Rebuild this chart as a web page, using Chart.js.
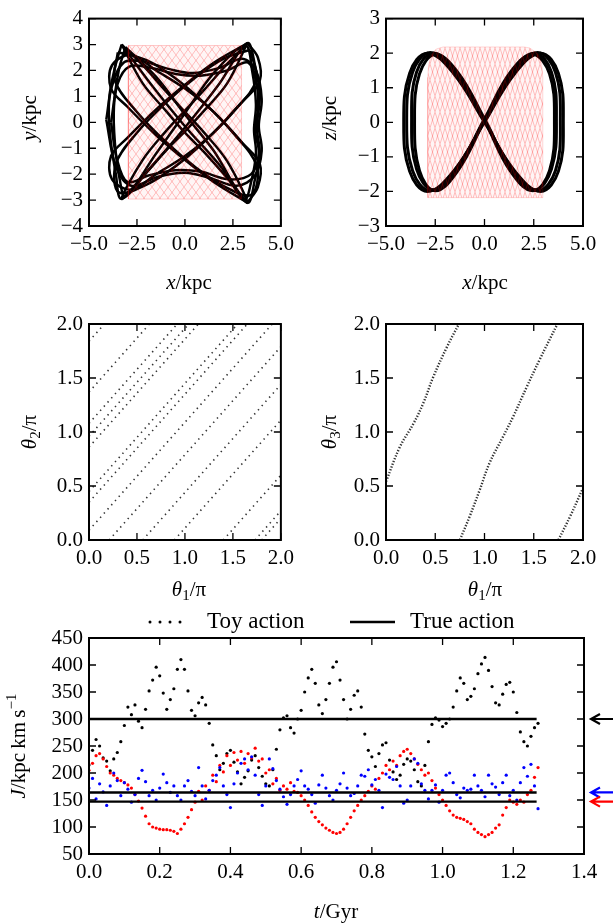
<!DOCTYPE html>
<html>
<head>
<meta charset="utf-8">
<script src="https://cdn.jsdelivr.net/npm/chart.js@4.4.1/dist/chart.umd.min.js"></script>
<style>
body { margin: 0; background: #fff; width: 613px; height: 924px; position: relative; overflow: hidden; }
canvas { position: absolute; }
</style>
</head>
<body>
<canvas id="c1" width="300" height="300" style="left:0;top:0"></canvas>
<canvas id="c2" width="313" height="300" style="left:300px;top:0"></canvas>
<canvas id="c3" width="300" height="310" style="left:0;top:300px"></canvas>
<canvas id="c4" width="313" height="310" style="left:300px;top:300px"></canvas>
<canvas id="c5" width="613" height="324" style="left:0;top:600px"></canvas>
<script>
// ---- orbit in x-y (black traces, kpc) ----
const xyLoops = [
  [[3.25,3.05],[2.2,2.25],[1.0,1.25],[0,0.45],[-1.0,-0.35],[-2.2,-1.45],[-3.3,-2.95],[-2.2,-2.1],[-1.0,-1.1],[0,-0.35],[1.0,0.45],[2.2,1.5],[3.25,3.05]],
  [[-3.3,3.0],[-2.2,2.2],[-1.0,1.2],[0,0.4],[1.0,-0.4],[2.2,-1.5],[3.25,-3.1],[2.2,-2.15],[1.0,-1.15],[0,-0.4],[-1.0,0.45],[-2.2,1.5],[-3.3,3.0]],
  [[3.4,2.8],[2.0,2.45],[0.5,1.7],[-1.0,0.75],[-2.5,-0.4],[-3.6,-1.6],[-3.45,-2.7],[-2.0,-2.4],[-0.5,-1.7],[1.0,-0.75],[2.5,0.4],[3.7,1.6],[3.4,2.8]],
  [[-3.5,2.7],[-2.0,2.4],[-0.5,1.7],[1.0,0.75],[2.5,-0.4],[3.75,-1.7],[3.45,-2.8],[2.0,-2.45],[0.5,-1.7],[-1.0,-0.75],[-2.5,0.4],[-3.65,1.6],[-3.5,2.7]],
  [[-4.1,0.1],[-3.8,1.4],[-3.2,2.3],[-2.2,2.35],[-0.8,2.05],[0.4,1.9],[1.8,2.1],[3.0,2.45],[3.7,2.0],[4.0,0.9],[3.85,-0.15],[4.0,-1.1],[3.65,-2.05],[2.7,-2.45],[1.3,-2.15],[0,-1.95],[-1.4,-2.1],[-2.8,-2.45],[-3.6,-1.7],[-4.1,0.1]],
  [[-3.3,3.0],[-3.65,2.1],[-3.95,0.9],[-3.9,-0.5],[-3.6,-2.0],[-3.3,-2.95],[-1.8,-1.75],[0,-0.2],[1.8,1.5],[3.25,3.05],[3.65,2.2],[3.9,1.0],[3.75,-0.2],[3.9,-1.2],[3.65,-2.2],[3.25,-3.1],[1.8,-1.65],[0,-0.15],[-1.8,1.5],[-3.3,3.0]],
  [[-3.1,2.9],[-3.45,2.0],[-3.7,0.6],[-3.65,-0.8],[-3.4,-2.2],[-3.1,-2.85],[-1.5,-1.2],[0,0.35],[1.5,1.9],[3.15,2.95],[3.5,2.0],[3.7,0.7],[3.6,-0.3],[3.7,-1.2],[3.45,-2.3],[3.1,-2.95],[1.5,-1.1],[0,0.3],[-1.5,1.75],[-3.1,2.9]],
  [[-3.85,0.0],[-3.5,1.5],[-2.9,2.15],[-1.8,2.1],[-0.4,1.85],[0.8,1.8],[2.2,2.0],[3.3,2.3],[3.75,1.4],[3.8,0.5],[3.65,-0.3],[3.85,-1.2],[3.45,-2.0],[2.3,-2.2],[0.8,-1.9],[-0.5,-1.85],[-1.9,-2.05],[-3.0,-2.3],[-3.55,-1.4],[-3.85,0.0]],
  [[3.25,3.05],[1.5,2.3],[0,1.45],[-1.5,0.5],[-3.0,-0.6],[-3.85,-1.3],[-3.8,-2.2],[-2.8,-2.6],[-1.5,-2.0],[0,-1.3],[1.5,-0.4],[3.0,0.8],[3.9,1.6],[3.8,2.5],[3.25,3.05]],
  [[3.25,-3.1],[1.5,-2.3],[0,-1.45],[-1.5,-0.5],[-3.0,0.6],[-3.85,1.3],[-3.8,2.2],[-2.8,2.6],[-1.5,2.0],[0,1.3],[1.5,0.4],[3.0,-0.8],[3.9,-1.6],[3.8,-2.5],[3.25,-3.1]]
];
const xyBox = [[-2.95,-2.96],[2.95,-2.96],[2.95,2.96],[-2.95,2.96],[-2.95,-2.96]];

// ---- orbit in x-z ----
const xzLoops = [
  [[0,0],[1.55,1.42],[2.85,2.0],[3.75,1.42],[4.0,0],[3.75,-1.42],[2.85,-2.0],[1.55,-1.42],[0,0],[-1.58,1.42],[-2.9,2.0],[-3.8,1.42],[-4.1,0],[-3.8,-1.42],[-2.9,-2.0],[-1.58,-1.42],[0,0]],
  [[0,0.05],[1.45,1.45],[2.7,2.02],[3.6,1.45],[3.85,0.05],[3.6,-1.4],[2.7,-1.98],[1.45,-1.38],[0,0.05],[-1.5,1.45],[-2.75,2.02],[-3.65,1.45],[-3.95,0.05],[-3.65,-1.4],[-2.75,-1.98],[-1.5,-1.38],[0,0.05]],
  [[0,0.1],[1.35,1.48],[2.55,2.0],[3.4,1.45],[3.65,0.1],[3.4,-1.35],[2.55,-1.95],[1.35,-1.35],[0,0.1],[-1.4,1.48],[-2.6,2.0],[-3.45,1.45],[-3.7,0.1],[-3.45,-1.35],[-2.6,-1.95],[-1.4,-1.35],[0,0.1]],
  [[0,0.05],[1.3,1.4],[2.45,1.96],[3.3,1.4],[3.55,0.05],[3.3,-1.4],[2.45,-1.98],[1.3,-1.4],[0,0.05],[-1.35,1.4],[-2.5,1.96],[-3.3,1.4],[-3.55,0.05],[-3.3,-1.4],[-2.5,-1.98],[-1.35,-1.4],[0,0.05]]
];
const xzRegion = [[-2.88,-2.18],[2.96,-2.18],[2.96,1.3],[2.9,1.7],[2.7,1.98],[2.3,2.15],[2.0,2.18],[-2.1,2.18],[-2.45,2.12],[-2.7,1.95],[-2.84,1.65],[-2.88,1.3],[-2.88,-2.18]];

// ---- angle panels (units of pi) ----
const theta12Lines = [
  [0,1.84,0.16,2.0],[0,1.37,0.63,2.0],[0,1.08,0.92,2.0],[0,0.96,1.04,2.0],[0,0.86,1.14,2.0],[0,0.45,1.55,2.0],
  [0,0.35,1.65,2.0],[0,0.09,1.91,2.0],[0.21,0,2.0,1.79],[0.56,0,2.0,1.44],[0.89,0,2.0,1.11],
  [1.40,0,2.0,0.6],[1.73,0,2.0,0.27],[1.80,0,2.0,0.2]
];
const theta13Curves = [
  [[0.0,0.54],[0.14,0.86],[0.28,1.08],[0.38,1.27],[0.48,1.51],[0.62,1.79],[0.74,2.0]],
  [[0.75,0],[0.85,0.22],[0.95,0.46],[1.05,0.71],[1.19,0.96],[1.29,1.14],[1.43,1.42],[1.56,1.67],[1.74,2.0]],
  [[1.75,0],[1.87,0.22],[2.0,0.48]]
];

// ---- actions against time ----
const times = [0.00,0.01,0.02,0.03,0.04,0.05,0.06,0.07,0.08,0.09,0.10,0.11,0.12,0.13,0.14,0.15,0.16,0.17,0.18,0.19,
  0.20,0.21,0.22,0.23,0.24,0.25,0.26,0.27,0.28,0.29,0.30,0.31,0.32,0.33,0.34,0.35,0.36,0.37,0.38,0.39,
  0.40,0.41,0.42,0.43,0.44,0.45,0.46,0.47,0.48,0.49,0.50,0.51,0.52,0.53,0.54,0.55,0.56,0.57,0.58,0.59,
  0.60,0.61,0.62,0.63,0.64,0.65,0.66,0.67,0.68,0.69,0.70,0.71,0.72,0.73,0.74,0.75,0.76,0.77,0.78,0.79,
  0.80,0.81,0.82,0.83,0.84,0.85,0.86,0.87,0.88,0.89,0.90,0.91,0.92,0.93,0.94,0.95,0.96,0.97,0.98,0.99,
  1.00,1.01,1.02,1.03,1.04,1.05,1.06,1.07,1.08,1.09,1.10,1.11,1.12,1.13,1.14,1.15,1.16,1.17,1.18,1.19,
  1.20,1.21,1.22,1.23,1.24,1.25,1.26,1.27];
const toyBlack = [215,242,262,250,228,222,204,226,238,258,288,322,308,326,296,284,318,352,372,396,
  380,348,318,336,356,392,410,392,352,316,306,330,340,326,292,252,232,206,218,236,
  242,220,202,180,192,204,224,232,210,194,180,176,206,244,280,302,306,284,274,300,
  316,350,376,392,366,326,310,336,366,396,406,372,336,300,318,344,352,322,272,242,
  230,212,236,252,256,224,202,188,196,216,226,222,206,184,176,214,258,290,302,298,
  286,292,300,322,352,376,366,336,342,356,384,402,414,390,360,330,326,346,364,368,
  350,312,276,258,250,268,284,292];
const toyRed = [205,218,232,236,226,212,200,196,190,186,182,178,172,160,148,135,120,106,100,98,
  96,95,95,94,92,88,96,106,118,132,146,166,150,176,168,196,184,214,202,232,
  214,238,224,240,218,236,228,246,222,226,200,206,180,190,168,176,170,182,166,164,
  158,150,140,128,118,110,104,98,94,90,88,90,96,106,118,130,140,150,158,166,
  176,170,190,200,214,206,222,214,232,240,244,236,226,216,206,196,200,186,172,160,
  150,140,130,122,118,116,114,110,106,96,90,86,82,86,90,98,104,122,136,150,
  146,142,150,146,160,168,192,210];
const toyBlue = [172,190,152,180,165,140,176,200,186,158,182,170,146,160,190,205,184,158,168,150,
  172,198,182,164,176,158,150,176,186,166,158,210,176,152,168,186,196,210,176,160,
  136,180,200,218,226,206,230,196,160,140,176,226,208,186,170,156,142,160,176,188,
  204,176,170,160,144,178,196,172,158,150,168,180,200,172,158,162,176,196,194,206,
  178,188,168,136,198,192,188,212,176,144,150,176,226,218,180,168,152,168,178,146,
  168,196,200,182,160,154,172,168,170,196,176,168,156,196,180,174,160,182,196,158,
  168,150,182,210,194,216,176,134];
const trueActions = [300, 164, 147];
const trueEnd = 1.266;
const actionColors = ['#000000', '#0000ff', '#ff0000'];

// ---------------------------------------------------------------
const SERIF = '"Liberation Serif", "DejaVu Serif", serif';

function fmt(v, dec) {
  if (Math.abs(v) < 1e-9) v = 0;
  return v.toFixed(dec).replace('-', '\u2212');
}

function axis(min, max, step, dec, size, isY) {
  return {
    type: 'linear', min: min, max: max,
    ticks: { stepSize: step, autoSkip: false, maxRotation: 0, color: '#000', padding: 6,
             font: { family: SERIF, size: 21 }, callback: v => fmt(v, dec) },
    grid: { display: false, drawTicks: false },
    border: { display: false },
    afterFit: s => { if (isY) s.width = size; else s.height = size; }
  };
}

function hatch(w, h, alpha) {
  const c = document.createElement('canvas');
  c.width = w; c.height = h;
  const g = c.getContext('2d');
  g.fillStyle = 'rgba(255,0,0,0.04)';
  g.fillRect(0, 0, w, h);
  g.strokeStyle = 'rgba(255,0,0,' + alpha + ')';
  g.lineWidth = 1;
  g.beginPath();
  g.moveTo(0, h); g.lineTo(w, 0);
  g.moveTo(0, 0); g.lineTo(w, h);
  g.stroke();
  return g.createPattern(c, 'repeat');
}

function drawMath(ctx, parts, x, y, rot) {
  const size = 21;
  const fontOf = p => (p.it ? 'italic ' : '') + Math.round((p.sub || p.sup) ? size * 0.7 : size) + 'px ' + SERIF;
  ctx.save();
  ctx.translate(x, y);
  ctx.rotate(rot);
  let w = 0;
  parts.forEach(p => { ctx.font = fontOf(p); w += ctx.measureText(p.t).width; });
  let cx = -w / 2;
  ctx.fillStyle = '#000';
  ctx.textBaseline = 'middle';
  parts.forEach(p => {
    ctx.font = fontOf(p);
    const dy = p.sub ? size * 0.28 : (p.sup ? -size * 0.35 : 0);
    ctx.fillText(p.t, cx, dy);
    cx += ctx.measureText(p.t).width;
  });
  ctx.restore();
}

// frame with inward ticks on all four sides, plus axis titles
const framePlugin = {
  id: 'frame',
  afterDatasetsDraw(chart, args, opts) {
    const { ctx, chartArea: a, scales } = chart;
    ctx.save();
    ctx.strokeStyle = '#000';
    ctx.lineWidth = 1.3;
    const L = 7;
    ctx.beginPath();
    scales.x.ticks.forEach(t => {
      const px = scales.x.getPixelForValue(t.value);
      ctx.moveTo(px, a.bottom); ctx.lineTo(px, a.bottom - L);
      ctx.moveTo(px, a.top); ctx.lineTo(px, a.top + L);
    });
    scales.y.ticks.forEach(t => {
      const py = scales.y.getPixelForValue(t.value);
      ctx.moveTo(a.left, py); ctx.lineTo(a.left + L, py);
      ctx.moveTo(a.right, py); ctx.lineTo(a.right - L, py);
    });
    ctx.stroke();
    ctx.lineWidth = 2;
    ctx.strokeRect(a.left, a.top, a.right - a.left, a.bottom - a.top);
    ctx.restore();
    if (opts.xTitle) drawMath(ctx, opts.xTitle, opts.xPos[0], opts.xPos[1], 0);
    if (opts.yTitle) drawMath(ctx, opts.yTitle, opts.yPos[0], opts.yPos[1], -Math.PI / 2);
  }
};

function pts(list) { return list.map(p => ({ x: p[0], y: p[1] })); }

function panel(id, g, scales, datasets, titles, extra) {
  const c = document.getElementById(id);
  return new Chart(c, {
    type: 'scatter',
    data: { datasets: datasets },
    options: {
      responsive: false,
      animation: false,
      layout: { padding: { top: g.top, right: g.right, left: 0, bottom: 0 } },
      scales: scales,
      plugins: { legend: { display: false }, tooltip: { enabled: false }, frame: titles }
    },
    plugins: extra ? [framePlugin, extra] : [framePlugin]
  });
}

const kpcX = [{ t: 'x', it: true }, { t: '/kpc' }];

// panel 1: x-y
const ds1 = xyLoops.map(l => ({ data: pts(l), showLine: true, borderColor: '#000', borderWidth: 2.5,
  pointRadius: 0, tension: 0.35, order: 1 }));
ds1.push({ data: pts(xyBox), showLine: true, fill: 'shape', backgroundColor: hatch(8, 11, 0.24),
  borderColor: 'rgba(255,0,0,0.2)', borderWidth: 1, pointRadius: 0, tension: 0, order: 0 });
panel('c1', { top: 10, right: 13 },
  { x: axis(-5, 5, 2.5, 1, 74, false), y: axis(-4, 4, 1, 0, 89, true) },
  ds1, { xTitle: kpcX, xPos: [189, 283], yTitle: [{ t: 'y', it: true }, { t: '/kpc' }], yPos: [30, 118] });

// panel 2: x-z
const ds2 = xzLoops.map(l => ({ data: pts(l), showLine: true, borderColor: '#000', borderWidth: 3,
  pointRadius: 0, tension: 0.4, order: 1 }));
ds2.push({ data: pts(xzRegion), showLine: true, fill: 'shape', backgroundColor: hatch(5, 16, 0.24),
  borderColor: 'rgba(255,0,0,0.15)', borderWidth: 1, pointRadius: 0, tension: 0, order: 0 });
panel('c2', { top: 10, right: 30 },
  { x: axis(-5, 5, 2.5, 1, 74, false), y: axis(-3, 3, 1, 0, 86, true) },
  ds2, { xTitle: kpcX, xPos: [185, 283], yTitle: [{ t: 'z', it: true }, { t: '/kpc' }], yPos: [30, 118] });

// panel 3: theta1-theta2
const ds3 = theta12Lines.map(s => ({ data: [{ x: s[0], y: s[1] }, { x: s[2], y: s[3] }], showLine: true,
  borderColor: '#333', borderWidth: 1.6, borderDash: [1.4, 4.2], pointRadius: 0 }));
const th1 = [{ t: '\u03b8', it: true }, { t: '1', sub: true }, { t: '/\u03c0' }];
panel('c3', { top: 24, right: 13 },
  { x: axis(0, 2, 0.5, 1, 70, false), y: axis(0, 2, 0.5, 1, 89, true) },
  ds3, { xTitle: th1, xPos: [189, 290], yTitle: [{ t: '\u03b8', it: true }, { t: '2', sub: true }, { t: '/\u03c0' }], yPos: [30, 132] });

// panel 4: theta1-theta3
const ds4 = theta13Curves.map(l => ({ data: pts(l), showLine: true, borderColor: '#333', borderWidth: 2.4,
  borderDash: [1.3, 1.7], pointRadius: 0, tension: 0.4 }));
panel('c4', { top: 24, right: 30 },
  { x: axis(0, 2, 0.5, 1, 70, false), y: axis(0, 2, 0.5, 1, 86, true) },
  ds4, { xTitle: th1, xPos: [185, 290], yTitle: [{ t: '\u03b8', it: true }, { t: '3', sub: true }, { t: '/\u03c0' }], yPos: [30, 132] });

// panel 5: actions against time
const dotSet = (vals, col) => ({ data: times.map((t, i) => ({ x: t, y: vals[i] })), showLine: false,
  pointRadius: 1.6, pointBackgroundColor: col, pointBorderWidth: 0, order: 1 });
const ds5 = [dotSet(toyBlue, '#0000ff'), dotSet(toyRed, '#ff0000'), dotSet(toyBlack, '#000000')];
trueActions.forEach(v => ds5.push({ data: [{ x: 0, y: v }, { x: trueEnd, y: v }], showLine: true,
  borderColor: '#000', borderWidth: 2.4, pointRadius: 0, order: 0 }));

const extras5 = {
  id: 'extras5',
  afterDraw(chart) {
    const ctx = chart.ctx, y = chart.scales.y;
    ctx.save();
    // legend
    ctx.fillStyle = '#000';
    [150, 160, 170, 180].forEach(x => { ctx.beginPath(); ctx.arc(x, 22, 1.5, 0, Math.PI * 2); ctx.fill(); });
    ctx.font = '23px ' + SERIF;
    ctx.textBaseline = 'middle';
    ctx.fillText('Toy action', 207, 22);
    ctx.lineWidth = 2.4;
    ctx.beginPath(); ctx.moveTo(350, 22); ctx.lineTo(395, 22); ctx.stroke();
    ctx.fillText('True action', 410, 22);
    // arrows marking the true actions
    trueActions.forEach((v, i) => {
      const py = y.getPixelForValue(v);
      ctx.strokeStyle = actionColors[i];
      ctx.lineWidth = 2.2;
      ctx.beginPath();
      ctx.moveTo(613, py); ctx.lineTo(591, py);
      ctx.moveTo(600, py - 5); ctx.lineTo(591, py); ctx.lineTo(600, py + 5);
      ctx.stroke();
    });
    ctx.restore();
  }
};
panel('c5', { top: 38, right: 29 },
  { x: axis(0, 1.4, 0.2, 1, 70, false), y: axis(50, 450, 50, 0, 89, true) },
  ds5, { xTitle: [{ t: 't', it: true }, { t: '/Gyr' }], xPos: [336, 312],
         yTitle: [{ t: 'J', it: true }, { t: '/kpc\u2009km\u2009s' }, { t: '\u22121', sup: true }], yPos: [19, 146] },
  extras5);
</script>
</body>
</html>
